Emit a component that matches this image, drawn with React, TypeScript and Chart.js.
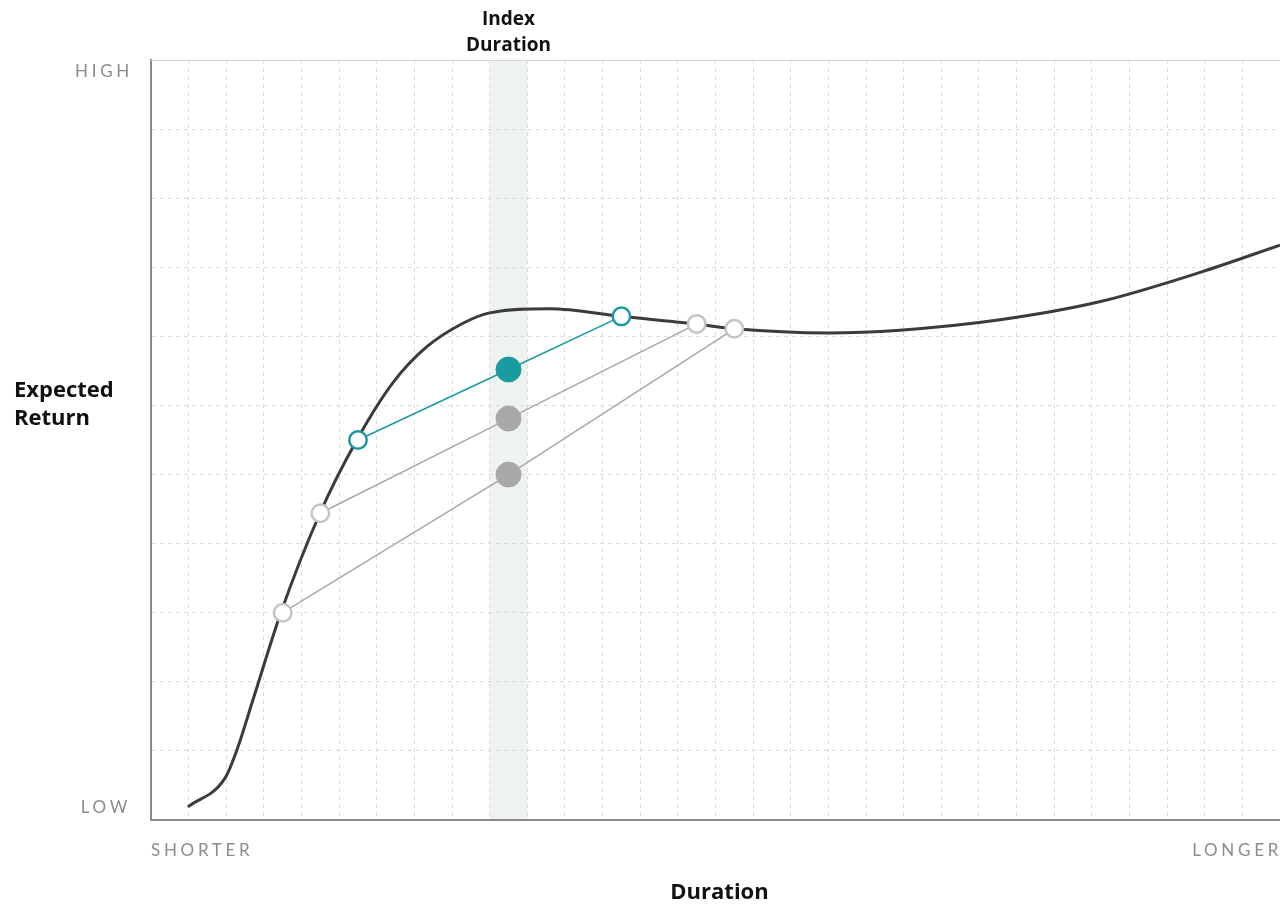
import React, { useEffect, useRef } from "react";
import { Chart, registerables } from "chart.js";

Chart.register(...registerables);

// Yield curve (duration vs expected return), in grid units
const curveX = [0.98, 1.97, 2.28, 2.71, 3.45, 4.49, 5.47, 6.43, 7.33, 8.29, 9.0, 10.6, 12.5, 14.46, 15.5, 18.0, 19.9, 22.56, 25.2, 27.9, 30];
const curveY = [0.19, 0.61, 1.01, 1.74, 3.0, 4.44, 5.5, 6.33, 6.85, 7.19, 7.34, 7.4, 7.29, 7.18, 7.11, 7.05, 7.09, 7.24, 7.5, 7.93, 8.32];

// Barbell combinations: [short leg, index-duration blend, long leg]
const tealX = [5.5, 9.5, 12.5];
const tealY = [5.5, 6.52, 7.29];
const grayAX = [4.5, 9.5, 14.5];
const grayAY = [4.44, 5.81, 7.18];
const grayBX = [3.5, 9.5, 15.5];
const grayBY = [3.0, 5.0, 7.11];

const bandRange = [9, 10];
const xRange = [0, 30];
const yRange = [0, 11];
const yTickLabels = ["LOW", "HIGH"];
const xTickLabels = ["SHORTER", "LONGER"];
const xTitle = "Duration";
const yTitle = ["Expected", "Return"];
const bandTitle = ["Index", "Duration"];

const TEAL = "#1a9aa1";
const GRAY_LINE = "#a8a8a8";
const GRAY_FILL = "#a9a9a9";
const GRAY_OPEN = "#c4c4c4";

const pts = (xs: number[], ys: number[]) => xs.map((x, i) => ({ x, y: ys[i] }));

const decorPlugin = {
  id: "decor",
  beforeDraw(chart: any) {
    const { ctx, chartArea, scales } = chart;
    const x0 = scales.x.getPixelForValue(bandRange[0]);
    const x1 = scales.x.getPixelForValue(bandRange[1]);
    ctx.save();
    ctx.fillStyle = "#eef3ef";
    ctx.fillRect(x0, chartArea.top, x1 - x0, chartArea.bottom - chartArea.top);
    ctx.restore();
  },
  afterDraw(chart: any) {
    const { ctx, chartArea, scales } = chart;
    const { left, right, top, bottom } = chartArea;
    ctx.save();
    // top border
    ctx.strokeStyle = "#d6d6d6";
    ctx.lineWidth = 1;
    ctx.beginPath();
    ctx.moveTo(left, top + 0.5);
    ctx.lineTo(right, top + 0.5);
    ctx.stroke();

    // gray spaced tick words
    ctx.fillStyle = "#8c8c8c";
    ctx.font = "17px Lato";
    (ctx as any).letterSpacing = "3.7px";
    ctx.textBaseline = "middle";
    ctx.textAlign = "right";
    ctx.fillText(yTickLabels[1], left - 18, scales.y.getPixelForValue(yRange[1]) + 12);
    ctx.fillText(yTickLabels[0], left - 20, scales.y.getPixelForValue(yRange[0]) - 12);
    ctx.textAlign = "left";
    ctx.fillText(xTickLabels[0], left, bottom + 31);
    ctx.textAlign = "right";
    ctx.fillText(xTickLabels[1], right + 2, bottom + 31);
    (ctx as any).letterSpacing = "0px";

    // bold titles
    ctx.fillStyle = "#111";
    ctx.font = "bold 22px 'Open Sans'";
    ctx.textAlign = "center";
    ctx.fillText(xTitle, (left + right) / 2 + 4, bottom + 73);
    ctx.textAlign = "left";
    ctx.fillText(yTitle[0], 14, 391);
    ctx.fillText(yTitle[1], 14, 419);
    ctx.font = "bold 19px 'Open Sans'";
    ctx.textAlign = "center";
    const bx = scales.x.getPixelForValue((bandRange[0] + bandRange[1]) / 2);
    ctx.fillText(bandTitle[0], bx, top - 40);
    ctx.fillText(bandTitle[1], bx, top - 14);
    ctx.restore();
  },
};

export default function App() {
  const ref = useRef<HTMLCanvasElement>(null);
  useEffect(() => {
    const openClosed = (c: string, fill: string) => ({
      pointBackgroundColor: ["#fff", fill, "#fff"],
      pointBorderColor: [c, fill, c],
      pointBorderWidth: [2.5, 1, 2.5],
      pointRadius: [8.75, 12.5, 8.75],
    });
    const chart = new Chart(ref.current!, {
      type: "line",
      data: {
        datasets: [
          {
            data: pts(tealX, tealY),
            borderColor: TEAL,
            borderWidth: 1.5,
            ...openClosed(TEAL, TEAL),
          } as any,
          {
            data: pts(grayAX, grayAY),
            borderColor: GRAY_LINE,
            borderWidth: 1.5,
            ...openClosed(GRAY_OPEN, GRAY_FILL),
          },
          {
            data: pts(grayBX, grayBY),
            borderColor: GRAY_LINE,
            borderWidth: 1.5,
            ...openClosed(GRAY_OPEN, GRAY_FILL),
          },
          {
            data: pts(curveX, curveY),
            borderColor: "#3b3b3b",
            borderWidth: 3,
            pointRadius: 0,
            cubicInterpolationMode: "monotone",
          },
        ],
      },
      options: {
        responsive: false,
        animation: false,
        layout: { autoPadding: false, padding: { left: 151, top: 60, right: 0, bottom: 85 } },
        plugins: { legend: { display: false }, tooltip: { enabled: false } },
        elements: { line: { tension: 0 } },
        scales: {
          x: {
            type: "linear",
            min: xRange[0],
            max: xRange[1],
            ticks: { display: false, stepSize: 1 },
            grid: { color: "#dcdcdc", lineWidth: 1, drawTicks: false, tickLength: 0 },
            border: { display: true, color: "#8a8a8a", width: 2, dash: [4, 4] },
          },
          y: {
            type: "linear",
            min: yRange[0],
            max: yRange[1],
            ticks: { display: false, stepSize: 1 },
            grid: { color: "#dcdcdc", lineWidth: 1, drawTicks: false, tickLength: 0 },
            border: { display: true, color: "#8a8a8a", width: 2, dash: [4, 4] },
          },
        },
      } as any,
      plugins: [decorPlugin],
    });
    return () => chart.destroy();
  }, []);
  return (
    <div style={{ position: "absolute", left: 0, top: 0, width: 1280, height: 905, background: "#fff", overflow: "hidden" }}>
      <canvas ref={ref} width={1280} height={905} />
    </div>
  );
}
